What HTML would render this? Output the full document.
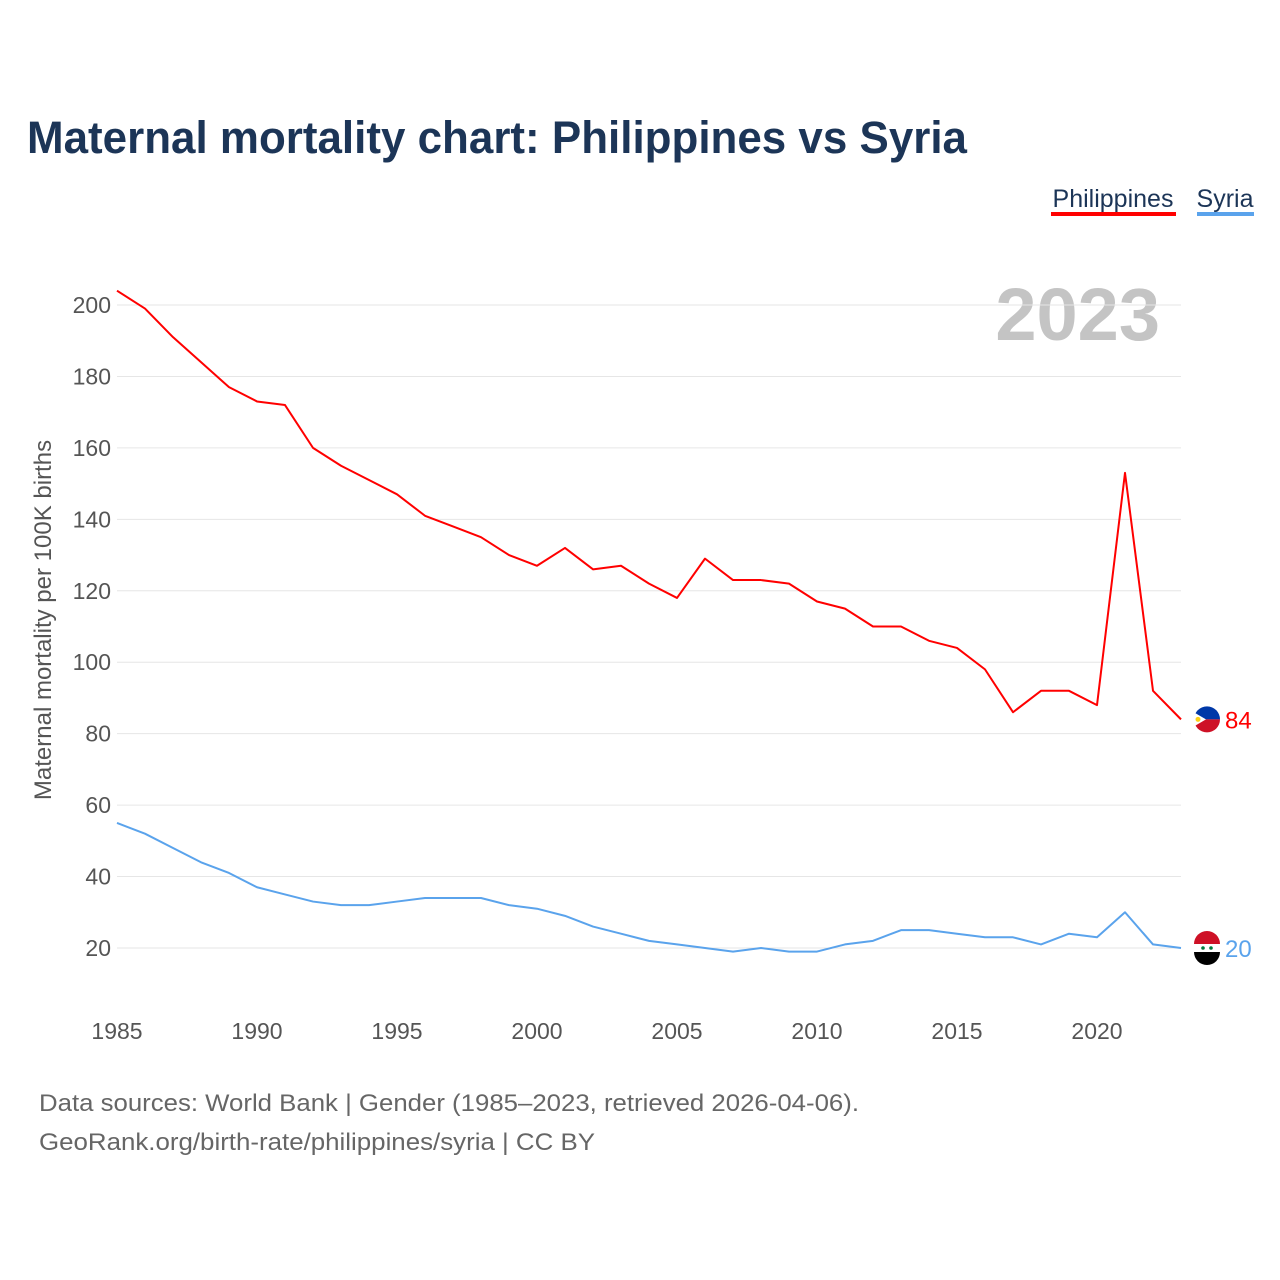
<!DOCTYPE html>
<html><head><meta charset="utf-8">
<style>
body{margin:0;background:#fff;font-family:"Liberation Sans",sans-serif;}
</style></head>
<body>
<svg id="chart" width="1280" height="1280" xmlns="http://www.w3.org/2000/svg" style="display:block">
<text x="27" y="153" font-size="45" font-weight="bold" fill="#1c3557" textLength="940" lengthAdjust="spacingAndGlyphs">Maternal mortality chart: Philippines vs Syria</text>
<g>
<text x="1113" y="207" font-size="25" fill="#1c3557" text-anchor="middle">Philippines</text>
<rect x="1051" y="212" width="125" height="4" fill="#ff0000"/></g>
<g>
<text x="1225" y="207" font-size="25" fill="#1c3557" text-anchor="middle">Syria</text>
<rect x="1197" y="212" width="57" height="4" fill="#5aa3ec"/></g>
<text x="1160" y="340" font-size="74" font-weight="bold" fill="#c4c4c4" text-anchor="end">2023</text>
<text transform="translate(51,620) rotate(-90)" font-size="24" fill="#555" text-anchor="middle">Maternal mortality per 100K births</text>
<g id="grid"></g><g id="lines"></g>
<text x="39" y="1111" font-size="24" fill="#666" textLength="820" lengthAdjust="spacingAndGlyphs">Data sources: World Bank | Gender (1985–2023, retrieved 2026-04-06).</text>
<text x="39" y="1150" font-size="24" fill="#666" textLength="556" lengthAdjust="spacingAndGlyphs">GeoRank.org/birth-rate/philippines/syria | CC BY</text>
</svg>
<script>
const years=[];for(let y=1985;y<=2023;y++)years.push(y);
const philippines=[204,199,191,184,177,173,172,160,155,151,147,141,138,135,130,127,132,126,127,122,118,129,123,123,122,117,115,110,110,106,104,98,86,92,92,88,153,92,84];
const syria=[55,52,48,44,41,37,35,33,32,32,33,34,34,34,32,31,29,26,24,22,21,20,19,20,19,19,21,22,25,25,24,23,23,21,24,23,30,21,20];
const yTicks=[20,40,60,80,100,120,140,160,180,200];
const xTicks=[1985,1990,1995,2000,2005,2010,2015,2020];
const X=y=>117+(y-1985)*28;
const Y=v=>948-(v-20)*(643/180);
const NS="http://www.w3.org/2000/svg";
const grid=document.getElementById('grid'),lines=document.getElementById('lines');
function mk(tag,attrs,parent){const e=document.createElementNS(NS,tag);for(const k in attrs)e.setAttribute(k,attrs[k]);parent.appendChild(e);return e;}
yTicks.forEach(v=>{
 const l=mk('line',{x1:117,x2:1181,y1:Y(v),y2:Y(v),stroke:'#e6e6e6','stroke-width':1},grid);
 
 
 const t=mk('text',{x:111,y:Y(v)+8,'font-size':23,fill:'#555','text-anchor':'end'},grid);
 t.textContent=v;
 
 
});
xTicks.forEach(v=>{
 const t=mk('text',{x:X(v),y:1039,'font-size':23,fill:'#555','text-anchor':'middle'},grid);
 t.textContent=v;
 
 
});
function series(vals,color,name,flag){
 const p=mk('polyline',{points:vals.map((v,i)=>X(years[i])+','+Y(v)).join(' '),fill:'none',stroke:color,'stroke-width':2,'stroke-linejoin':'round'},lines);
 
 
 const last=vals[vals.length-1],cy=Y(last);
 const g=mk('g',{},lines);
 
 
 flag(g,1207,cy);
 const t=mk('text',{x:1225,y:cy+9,'font-size':24,fill:color},lines);
 t.textContent=last;
 
 
}
series(philippines,'#ff0000','philippines',(g,cx,cy)=>{
 mk('path',{d:`M${cx-13},${cy} A13,13 0 0 1 ${cx+13},${cy} Z`,fill:'#0038a8'},g);
 mk('path',{d:`M${cx-13},${cy} A13,13 0 0 0 ${cx+13},${cy} Z`,fill:'#ce1126'},g);
 mk('path',{d:`M${cx-13},${cy-7} L${cx-1},${cy} L${cx-13},${cy+7} Z`,fill:'#fff'},g);
 mk('circle',{cx:cx-9,cy:cy,r:2.5,fill:'#fcd116'},g);
});
series(syria,'#5aa3ec','syria',(g,cx,cy)=>{
 mk('path',{d:`M${cx-13},${cy-4} A13,13 0 0 1 ${cx+13},${cy-4} Z`,fill:'#ce1126'},g);
 mk('rect',{x:cx-13,y:cy-4,width:26,height:8,fill:'#fff'},g);
 mk('path',{d:`M${cx-13},${cy+4} A13,13 0 0 0 ${cx+13},${cy+4} Z`,fill:'#000'},g);
 mk('circle',{cx:cx-4,cy:cy,r:1.8,fill:'#007a3d'},g);
 mk('circle',{cx:cx+4,cy:cy,r:1.8,fill:'#007a3d'},g);
});
</script>
</body></html>
